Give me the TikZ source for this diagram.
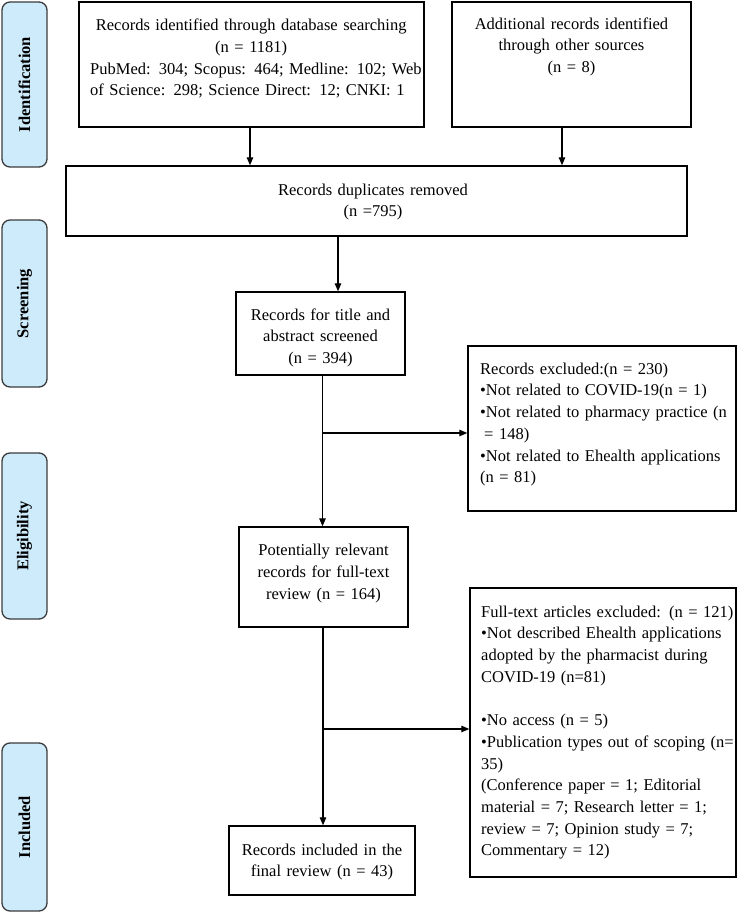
\documentclass[tikz,border=0pt]{standalone}
\usepackage{fontspec}
\setmainfont{Liberation Serif}
\usetikzlibrary{arrows.meta}
\definecolor{lblfill}{HTML}{CDEBFB}
\definecolor{lblline}{HTML}{3C3C3C}
\newcommand\jl[2]{\makebox[#1pt][s]{#2}}
\newcommand\cl[2]{\makebox[#1pt][c]{#2}}
\begin{document}
\begin{tikzpicture}[x=1pt,y=-1pt,
  box/.style={draw=black, line width=1.4pt, inner sep=0pt, fill=white},
  txt/.style={inner sep=0pt, font=\fontsize{16.5}{21.7}\selectfont},
  lbl/.style={draw=lblline, fill=lblfill, rounded corners=8pt, line width=1.3pt, inner sep=0pt, minimum width=45pt},
  lbltxt/.style={inner sep=0pt, rotate=90, font=\fontsize{16.5}{20}\selectfont\bfseries},
  arr/.style={line width=1.2pt, -{Triangle[length=8pt,width=6.5pt]}}]
\useasboundingbox (0,0) rectangle (738,912);

% side labels
\node[lbl, minimum height=165pt] (L1) at (24.5,84.5) {};
\node[lbltxt] (L1t) at (L1.center) {Identification};
\node[lbl, minimum height=167pt] (L2) at (24.5,303.5) {};
\node[lbltxt] (L2t) at (L2.center) {Screening};
\node[lbl, minimum height=166pt] (L3) at (24.5,536) {};
\node[lbltxt] (L3t) at (L3.center) {Eligibility};
\node[lbl, minimum height=168pt] (L4) at (24.5,827) {};
\node[lbltxt] (L4t) at (L4.center) {Included};

% boxes
\node[box, minimum width=345pt, minimum height=125pt] (db) at (251.5,64.5) {};
\node[box, minimum width=239pt, minimum height=125pt] (add) at (571.5,64.5) {};
\node[box, minimum width=621pt, minimum height=70pt] (dup) at (376.5,201) {};
\node[box, minimum width=169pt, minimum height=83pt] (title) at (320.5,333.5) {};
\node[box, minimum width=268pt, minimum height=165pt] (ex1) at (602,428.5) {};
\node[box, minimum width=169pt, minimum height=100pt] (pot) at (323.5,577) {};
\node[box, minimum width=266pt, minimum height=289pt] (ex2) at (603,732.5) {};
\node[box, minimum width=186pt, minimum height=69pt] (inc) at (322,860.5) {};

% texts
\node[txt, text width=322pt, align=left, anchor=north west] (dbt) at (90,15.3)
 {\strut\cl{322}{Records identified through database searching}\\
  \cl{322}{(n = 1181)}\\
  \jl{322}{PubMed: 304; Scopus: 464; Medline: 102; Web}\\
  of Science: 298; Science Direct: 12; CNKI: 1};
\node[txt, text width=239pt, align=center, anchor=north] (addt) at (571.5,13.8)
 {\strut Additional records identified\\ through other sources\\ (n = 8)};
\node[txt, text width=400pt, align=center, anchor=north] (dupt) at (373,179.8)
 {\strut Records duplicates removed\\ (n =795)};
\node[txt, text width=169pt, align=center, anchor=north] (titlet) at (320.5,304.8)
 {\strut Records for title and\\ abstract screened\\ (n = 394)};
\node[txt, text width=245pt, align=left, anchor=north west] (ex1t) at (480,358.9)
 {\strut Records excluded:(n = 230)\\
  •Not related to COVID-19(n = 1)\\
  \jl{245}{•Not related to pharmacy practice (n}\\
  \hspace*{4pt}= 148)\\
  \jl{245}{•Not related to Ehealth applications}\\
  (n = 81)};
\node[txt, text width=169pt, align=center, anchor=north] (pott) at (323.5,540.3)
 {\strut Potentially relevant\\ records for full-text\\ review (n = 164)};
\node[txt, text width=245pt, align=left, anchor=north west] (ex2t) at (481,601.8)
 {\strut\jl{245}{Full-text articles excluded: (n = 121)}\\
  \jl{245}{•Not described Ehealth applications}\\
  \jl{245}{adopted by the pharmacist during}\\
  COVID-19 (n=81)\\[21.7pt]
  •No access (n = 5)\\
  \jl{245}{•Publication types out of scoping (n=}\\
  35)\\
  \jl{245}{(Conference paper = 1; Editorial}\\
  \jl{245}{material = 7; Research letter = 1;}\\
  \jl{245}{review = 7; Opinion study = 7;}\\
  Commentary = 12)};
\node[txt, text width=186pt, align=center, anchor=north] (inct) at (322,839.8)
 {\strut Records included in the\\ final review (n = 43)};

% connectors
\draw[arr] ([xshift=-1.5pt]db.south) -- ([xshift=-1.5pt]db.south |- dup.north);
\draw[arr] ([xshift=-9.5pt]add.south) -- ([xshift=-9.5pt]add.south |- dup.north);
\draw[arr] ([xshift=-38.5pt]dup.south) -- ([xshift=-38.5pt]dup.south |- title.north);
\draw[arr] ([xshift=2pt]title.south) -- ([xshift=2pt]title.south |- pot.north);
\coordinate (b1) at (322.5,433);
\draw[arr] (b1) -- (b1 -| ex1.west);
\draw[arr] ([xshift=-0.5pt]pot.south) -- ([xshift=-0.5pt]pot.south |- inc.north);
\coordinate (b2) at (323,729);
\draw[arr] (b2) -- (b2 -| ex2.west);
\end{tikzpicture}
\end{document}
